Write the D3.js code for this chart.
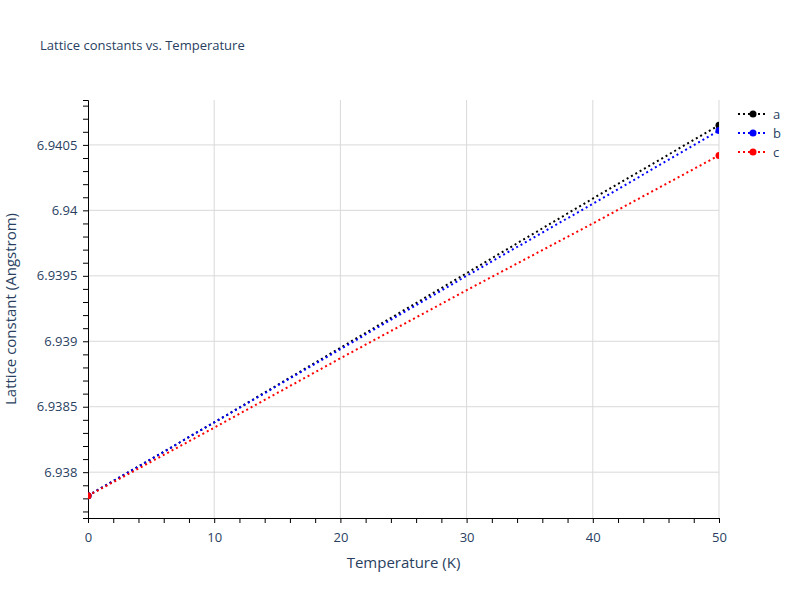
<!DOCTYPE html>
<html><head><meta charset="utf-8">
<script src="https://cdn.jsdelivr.net/npm/d3@7"></script>
<style>body{margin:0;background:#fff}text{font-family:"Open Sans",Arial,sans-serif;fill:#2a3f5f}</style>
</head><body><div id="chart"></div>
<script>
const temps = [0, 10, 20, 30, 40, 50]
const seriesA = [6.93782, 6.93838, 6.93895, 6.93952, 6.94009, 6.94065]
const seriesB = [6.93782, 6.93838, 6.93894, 6.93950, 6.94005, 6.94061]
const seriesC = [6.93782, 6.93834, 6.93887, 6.93939, 6.93990, 6.94042]
const names = ['a', 'b', 'c']
const colors = ['black', 'blue', 'red']
const yTicks = [6.938, 6.9385, 6.939, 6.9395, 6.94, 6.9405]
const xTicks = [0, 10, 20, 30, 40, 50]

const W = 800, H = 600, L = 88, R = 719, T = 100, B = 518
const svg = d3.select('#chart').append('svg').attr('width', W).attr('height', H)
const x = d3.scaleLinear().domain([0, 50]).range([L, R])
const y = d3.scaleLinear().domain([6.93765, 6.940843]).range([B, T])

// grid
svg.append('g').selectAll('line').data(xTicks.slice(1)).join('line')
	.attr('x1', d => x(d)).attr('x2', d => x(d)).attr('y1', T).attr('y2', B)
	.attr('stroke', '#d9d9d9')
svg.append('g').selectAll('line').data(yTicks).join('line')
	.attr('x1', L).attr('x2', R).attr('y1', d => y(d)).attr('y2', d => y(d))
	.attr('stroke', '#d9d9d9')

// axes
const xAxis = svg.append('g').attr('transform', `translate(0,${B})`)
	.call(d3.axisBottom(x).tickValues(d3.range(0, 51, 2)).tickSize(5).tickFormat(d => d % 10 === 0 ? d : ''))
const yAxis = svg.append('g').attr('transform', `translate(${L},0)`)
	.call(d3.axisLeft(y).tickValues(d3.range(6.9377, 6.94085, 0.0001)).tickSize(5)
		.tickFormat(d => { const m = yTicks.find(t => Math.abs(t - d) < 1e-7); return m === undefined ? '' : d3.format('')(m) }))
;[xAxis, yAxis].forEach(g => {
	g.select('.domain').attr('stroke', 'black')
	g.selectAll('.tick line').attr('stroke', 'black')
	g.selectAll('text').attr('font-size', 13).style('fill', '#2a3f5f')
})
xAxis.selectAll('text').attr('dy', '1.2em')
yAxis.selectAll('text').attr('dx', '-0.2em')

svg.append('clipPath').attr('id', 'clip').append('rect')
	.attr('x', L).attr('y', T).attr('width', R - L).attr('height', B - T)
const plot = svg.append('g').attr('clip-path', 'url(#clip)')
const line = d3.line().x((d, i) => x(temps[i])).y(d => y(d))
;[seriesA, seriesB, seriesC].forEach((s, k) => {
	plot.append('path').attr('d', line(s)).attr('fill', 'none')
		.attr('stroke', colors[k]).attr('stroke-width', 2).attr('stroke-dasharray', '2,3')
	plot.selectAll(null).data([0, s.length - 1]).join('circle')
		.attr('cx', i => x(temps[i])).attr('cy', i => y(s[i])).attr('r', 3.5).attr('fill', colors[k])
})

// legend
names.forEach((n, k) => {
	const ly = 114 + k * 19
	svg.append('line').attr('x1', 738).attr('x2', 768).attr('y1', ly).attr('y2', ly)
		.attr('stroke', colors[k]).attr('stroke-width', 2).attr('stroke-dasharray', '2,3')
	svg.append('circle').attr('cx', 753).attr('cy', ly).attr('r', 3.5).attr('fill', colors[k])
	svg.append('text').attr('x', 773).attr('y', ly + 4.5).attr('font-size', 13).text(n)
})

svg.append('text').attr('x', 40).attr('y', 50).attr('font-size', 13).text('Lattice constants vs. Temperature')
svg.append('text').attr('x', (L + R) / 2).attr('y', 568).attr('text-anchor', 'middle').attr('font-size', 15).text('Temperature (K)')
svg.append('text').attr('transform', `translate(16,${(T + B) / 2}) rotate(-90)`).attr('text-anchor', 'middle')
	.attr('font-size', 15).text('Lattice constant (Angstrom)')
</script></body></html>
